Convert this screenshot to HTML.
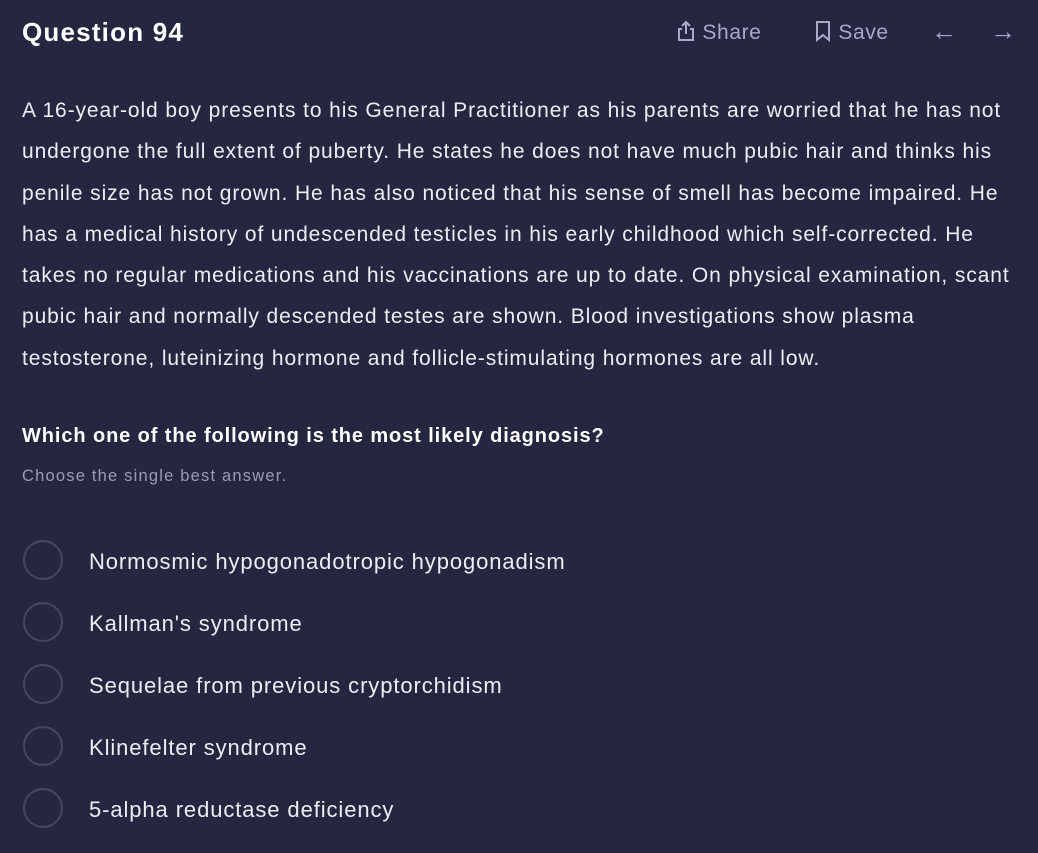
<!DOCTYPE html>
<html><head><meta charset="utf-8"><style>
body{margin:0;width:1038px;height:853px;background:#252640;color:#eceef5;font-family:"Liberation Sans",sans-serif;position:relative;overflow:hidden}
.abs{position:absolute;white-space:nowrap}
#title{left:22px;top:17px;font-size:26px;font-weight:bold;color:#fff;letter-spacing:1.2px}
.top{top:20px;font-size:21px;color:#a9aac7;letter-spacing:0.6px}
#stem{left:22px;top:90px;font-size:21px;line-height:41.3px;letter-spacing:0.9px;color:#eceef5}
#q{left:22px;top:425px;font-size:20px;font-weight:bold;color:#fff;letter-spacing:0.9px}
#hint{left:22px;top:467px;font-size:16.5px;color:#9a9bb5;letter-spacing:1.2px}
.circ{position:absolute;left:23px;width:36px;height:36px;border:2.5px solid #46475f;border-radius:50%}
.opt{left:89px;font-size:22px;color:#eceef5;letter-spacing:0.9px}
</style></head><body>
<div id="title" class="abs">Question 94</div>
<div class="abs top" style="left:676px"><svg width="20" height="22" viewBox="0 0 20 22" style="vertical-align:-3px" fill="none" stroke="#a9aac7" stroke-width="2"><path d="M10 2v12M6 6l4-4 4 4M6 9H3v11h14V9h-3"/></svg> Share</div>
<div class="abs top" style="left:814px"><svg width="18" height="22" viewBox="0 0 18 22" style="vertical-align:-3px" fill="none" stroke="#a9aac7" stroke-width="2"><path d="M3 2h12v18l-6-5-6 5z"/></svg> Save</div>
<div class="abs top" style="left:931px;top:16px;font-size:26px">←</div>
<div class="abs top" style="left:990px;top:16px;font-size:26px">→</div>
<div id="stem" class="abs">A 16-year-old boy presents to his General Practitioner as his parents are worried that he has not<br>undergone the full extent of puberty. He states he does not have much pubic hair and thinks his<br>penile size has not grown. He has also noticed that his sense of smell has become impaired. He<br>has a medical history of undescended testicles in his early childhood which self-corrected. He<br>takes no regular medications and his vaccinations are up to date. On physical examination, scant<br>pubic hair and normally descended testes are shown. Blood investigations show plasma<br>testosterone, luteinizing hormone and follicle-stimulating hormones are all low.</div>
<div id="q" class="abs">Which one of the following is the most likely diagnosis?</div>
<div id="hint" class="abs">Choose the single best answer.</div>
<div class="circ" style="top:540px"></div>
<div class="abs opt" style="top:549px">Normosmic hypogonadotropic hypogonadism</div>
<div class="circ" style="top:602px"></div>
<div class="abs opt" style="top:611px">Kallman's syndrome</div>
<div class="circ" style="top:664px"></div>
<div class="abs opt" style="top:673px">Sequelae from previous cryptorchidism</div>
<div class="circ" style="top:726px"></div>
<div class="abs opt" style="top:735px">Klinefelter syndrome</div>
<div class="circ" style="top:788px"></div>
<div class="abs opt" style="top:797px">5-alpha reductase deficiency</div>
</body></html>
